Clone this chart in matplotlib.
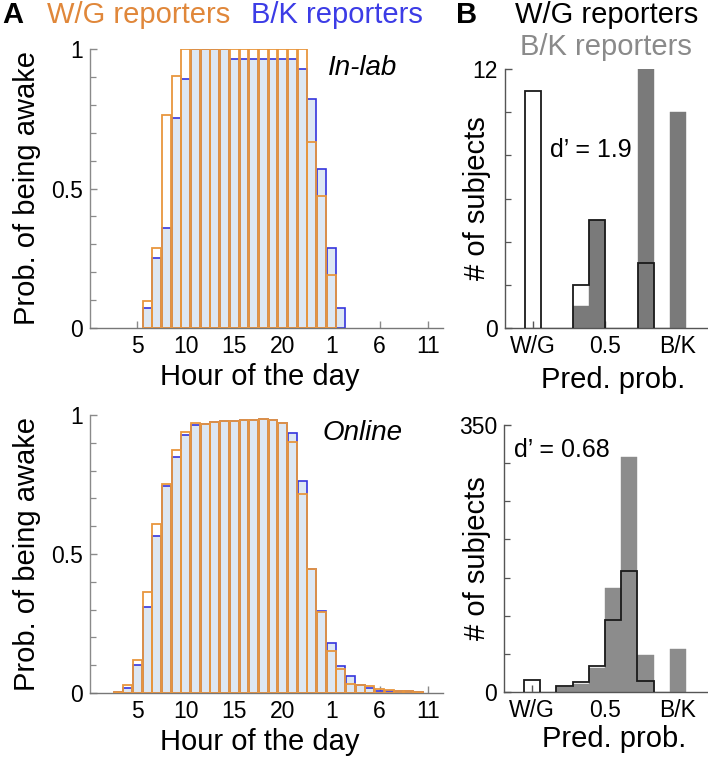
import matplotlib
matplotlib.use("Agg")
import matplotlib.pyplot as plt
import numpy as np

plt.rcParams['font.family'] = ['Liberation Sans', 'DejaVu Sans']

# ---------------- data ----------------
hours_lab = [6, 7, 8, 9, 10, 11, 12, 13, 14, 15, 16, 17, 18, 19, 20, 21, 22, 23, 24, 25, 26]
wg_lab = [0.096, 0.287, 0.762, 0.904, 1.0, 1.0, 1.0, 1.0, 1.0, 1.0, 1.0, 1.0, 1.0, 1.0, 1.0, 1.0, 1.0,
          0.667, 0.474, 0.19, 0.0]
bk_lab = [0.072, 0.251, 0.357, 0.751, 0.894, 1.0, 1.0, 1.0, 1.0, 0.964, 0.964, 0.964, 0.964, 0.964,
          0.964, 0.964, 0.928, 0.821, 0.570, 0.286, 0.072]

hours_online = list(range(3, 35))
wg_online = [0.004, 0.030, 0.119, 0.363, 0.608, 0.751, 0.873, 0.938, 0.971, 0.969, 0.976, 0.978, 0.978,
             0.981, 0.981, 0.986, 0.983, 0.971, 0.902, 0.715, 0.445, 0.291, 0.152, 0.088, 0.034,
             0.029, 0.024, 0.014, 0.011, 0.008, 0.008, 0.002]
bk_online = [0.002, 0.018, 0.100, 0.308, 0.566, 0.743, 0.850, 0.929, 0.963, 0.966, 0.976, 0.978, 0.978,
             0.981, 0.981, 0.986, 0.981, 0.971, 0.935, 0.761, 0.447, 0.296, 0.179, 0.096, 0.062,
             0.028, 0.017, 0.008, 0.008, 0.008, 0.008, 0.004]

hour_ticks = [5, 10, 15, 20, 25, 30, 35]
hour_labels = ['5', '10', '15', '20', '1', '6', '11']

pred_bins = [0, 1, 2, 3, 4, 5, 6, 7, 8, 9]  # bin index; centres at k/9
wg_counts_lab = [11, 0, 0, 2, 5, 0, 0, 3, 0, 0]
bk_counts_lab = [0, 0, 0, 1, 5, 0, 0, 12, 0, 10]
wg_counts_online = [16, 0, 8, 13, 34, 95, 158, 14, 0, 0]
bk_counts_online = [0, 0, 6, 11, 31, 136, 308, 49, 0, 57]
pred_ticks = [0, 0.5, 1]
pred_labels = ['W/G', '0.5', 'B/K']

# ---------------- style ----------------
ORANGE = '#E8963E'
ORANGE_T = '#E0873A'
BLUE = '#3535DD'
BLUE_T = '#3C3CE6'
BLUEFILL = '#DDE7F3'
GRAY_SPINE = '#8A8A8A'

W, H = 708, 761
fig = plt.figure(figsize=(W / 100, H / 100), dpi=100)


def ax_px(left, top, right, bottom):
    return fig.add_axes([left / W, 1 - bottom / H, (right - left) / W, (bottom - top) / H])


def style_axes(ax, spine_color):
    for s in ['top', 'right']:
        ax.spines[s].set_visible(False)
    for s in ['left', 'bottom']:
        ax.spines[s].set_color(spine_color)
        ax.spines[s].set_linewidth(1.0)
    ax.tick_params(direction='in', which='both', colors=spine_color, labelcolor='black',
                   labelsize=16.5)
    ax.tick_params(which='major', length=5, width=1.0)
    ax.tick_params(which='minor', length=4, width=0.9)
    ax.tick_params(axis='x', pad=5)
    ax.tick_params(axis='y', pad=5)


def hour_panel(ax, hours, wg, bk):
    ax.bar(hours, bk, width=0.92, color=BLUEFILL, edgecolor=BLUE, linewidth=1.2, zorder=2)
    hw = [h for h, v in zip(hours, wg) if v > 0]
    vw = [v for v in wg if v > 0]
    ax.bar(hw, vw, width=0.92, facecolor='none', edgecolor=ORANGE, linewidth=1.3, zorder=3)
    ax.set_xlim(0.1, 36.55)
    ax.set_ylim(0, 1)
    ax.set_yticks([0, 0.5, 1])
    ax.set_yticklabels(['0', '0.5', '1'])
    ax.set_yticks(np.arange(0, 1.01, 0.1), minor=True)
    ax.set_xticks(hour_ticks)
    ax.set_xticklabels(hour_labels)
    style_axes(ax, GRAY_SPINE)
    ax.spines['bottom'].set_color('#777777')


def pred_panel(ax, wg, bk, ymax, minor_step, gray):
    centres = np.array(pred_bins) / 9.0
    edges = (np.arange(len(pred_bins) + 1) - 0.5) / 9.0
    ax.bar(centres, bk, width=1.0 / 9, color=gray, edgecolor=gray, linewidth=0.3, zorder=2)
    # outline drawn as steps over each run of non-empty bins
    i = 0
    n = len(wg)
    while i < n:
        if wg[i] > 0:
            j = i
            while j < n and wg[j] > 0:
                j += 1
            ax.stairs(wg[i:j], edges[i:j + 1], baseline=0, fill=False, color='#1a1a1a',
                      linewidth=1.3, zorder=3)
            i = j
        else:
            i += 1
    ax.set_xlim(-0.193, 1.207)
    ax.set_ylim(0, ymax)
    ax.set_yticks([0, ymax])
    ax.set_yticks(np.arange(0, ymax + 0.01, minor_step), minor=True)
    ax.set_xticks(pred_ticks)
    ax.set_xticklabels(pred_labels)
    style_axes(ax, '#555555')


# Panel A
axA1 = ax_px(90, 49, 443, 328)
hour_panel(axA1, hours_lab, wg_lab, bk_lab)
axA2 = ax_px(90, 415, 443, 693)
hour_panel(axA2, hours_online, wg_online, bk_online)

# Panel B
axB1 = ax_px(505, 69, 708, 328)
pred_panel(axB1, wg_counts_lab, bk_counts_lab, 12, 2, '#7A7A7A')
axB2 = ax_px(504, 425, 708, 692)
pred_panel(axB2, wg_counts_online, bk_counts_online, 350, 50, '#8C8C8C')


def ftext(x, y, s, **kw):
    fig.text(x / W, 1 - y / H, s, **kw)


# headers
ftext(13, 15, 'A', fontsize=21, fontweight='bold', ha='center', va='center')
ftext(139, 15, 'W/G reporters', fontsize=21, color=ORANGE_T, ha='center', va='center')
ftext(337, 15, 'B/K reporters', fontsize=21, color=BLUE_T, ha='center', va='center')
ftext(467, 15, 'B', fontsize=21, fontweight='bold', ha='center', va='center')
ftext(607, 15, 'W/G reporters', fontsize=21, color='black', ha='center', va='center')
ftext(606, 47, 'B/K reporters', fontsize=21, color='#8A8A8A', ha='center', va='center')

# panel annotations
ftext(328, 68, 'In-lab', fontsize=20, style='italic', ha='left', va='center')
ftext(322, 433, 'Online', fontsize=20, style='italic', ha='left', va='center')
ftext(591, 150, 'd\u2019 = 1.9', fontsize=18, ha='center', va='center')
ftext(562, 450, 'd\u2019 = 0.68', fontsize=18, ha='center', va='center')

# axis labels
ftext(27, 188, 'Prob. of being awake', fontsize=21, rotation=90, ha='center', va='center')
ftext(27, 554, 'Prob. of being awake', fontsize=21, rotation=90, ha='center', va='center')
ftext(260, 385, 'Hour of the day', fontsize=21, ha='center', va='baseline')
ftext(260, 750, 'Hour of the day', fontsize=21, ha='center', va='baseline')
ftext(477, 198, '# of subjects', fontsize=21, rotation=90, ha='center', va='center')
ftext(477, 558, '# of subjects', fontsize=21, rotation=90, ha='center', va='center')
ftext(613, 388, 'Pred. prob.', fontsize=21, ha='center', va='baseline')
ftext(614, 747, 'Pred. prob.', fontsize=21, ha='center', va='baseline')

fig.savefig('out.png', dpi=100)
